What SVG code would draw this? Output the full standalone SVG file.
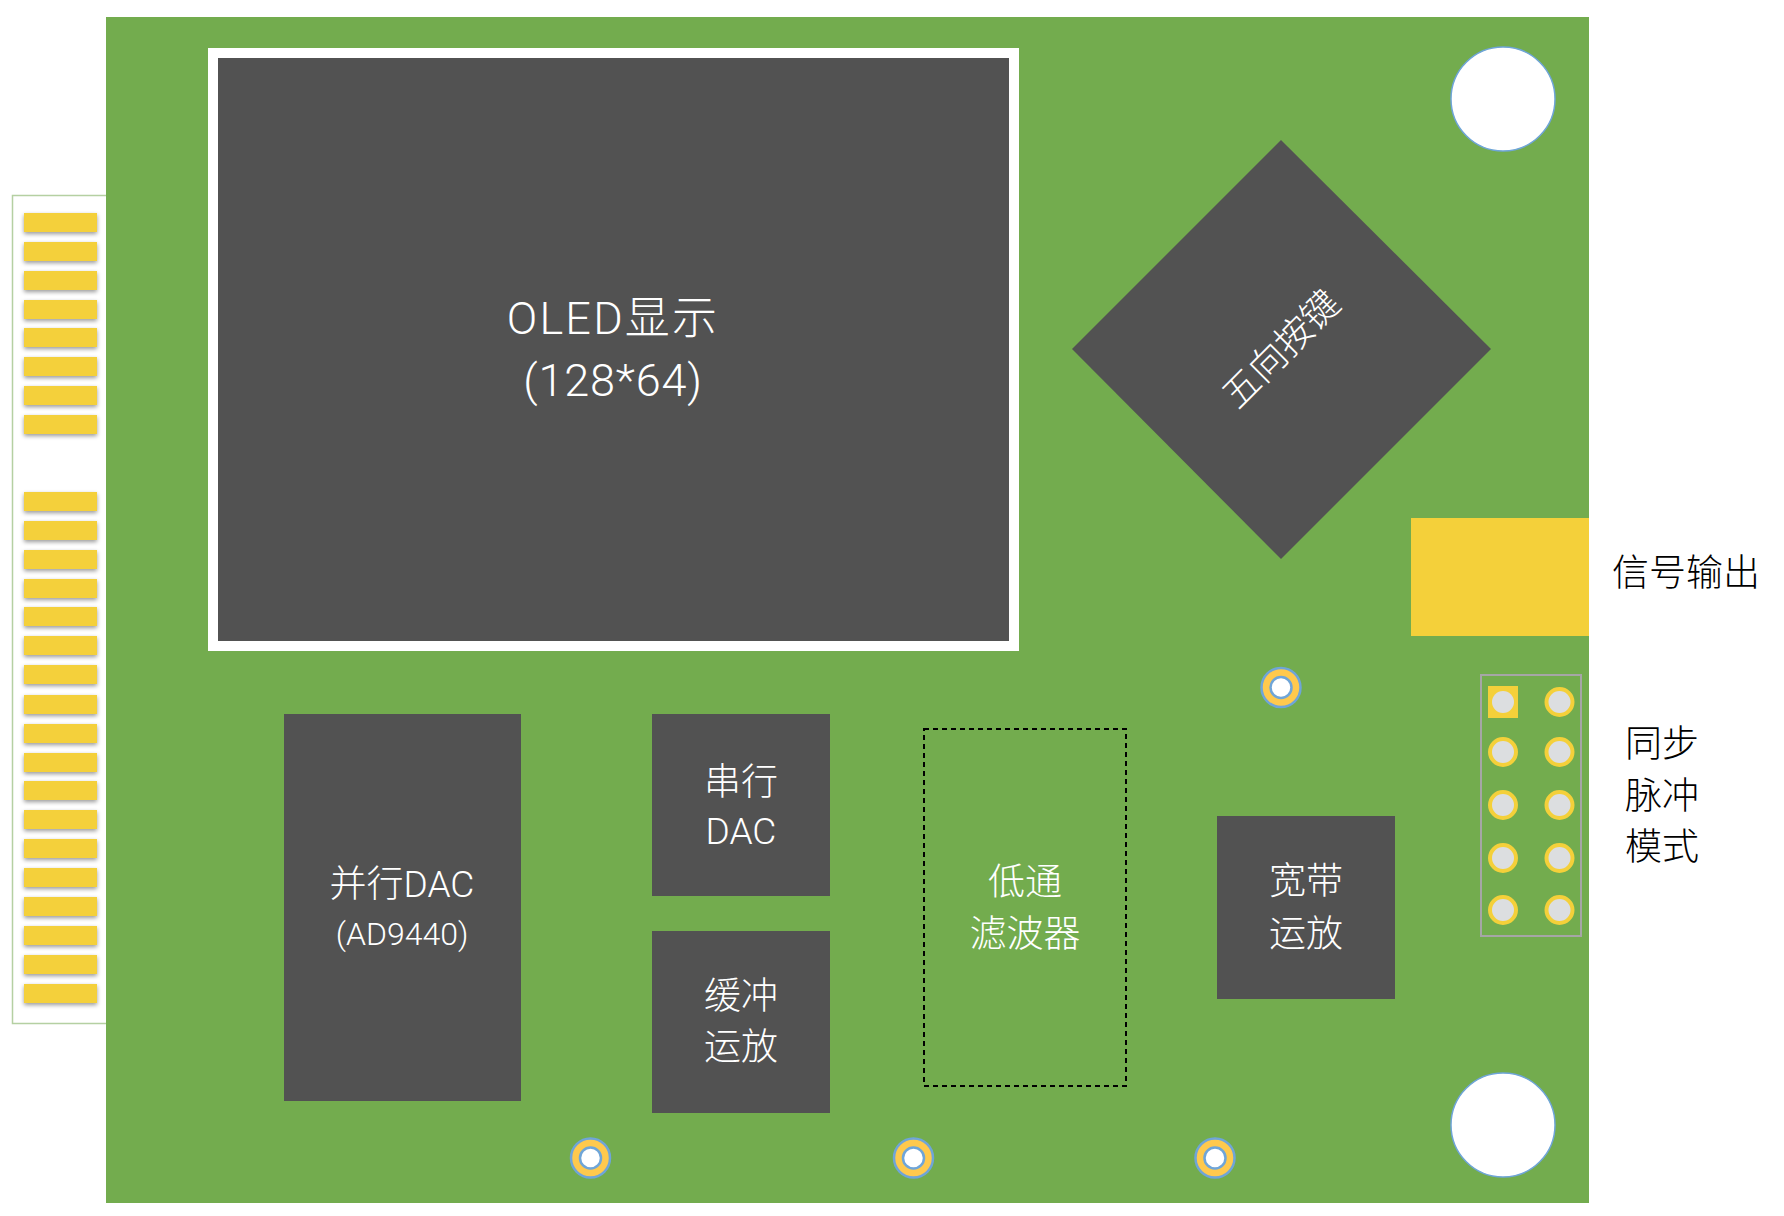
<svg xmlns="http://www.w3.org/2000/svg" width="1784" height="1216" viewBox="0 0 1784 1216">
<style>
text{font-family:Roboto,"Noto Sans CJK SC","Noto Sans",sans-serif;font-weight:300;text-anchor:middle;font-size:37px}
.w{fill:#fff}.k{fill:#000}
.chip{fill:#525252}
.f{fill:#f4d03a;filter:url(#sh)}
.pin{fill:#dcdee0;stroke:#f4d03a;stroke-width:4}
.via{fill:#fff;stroke:#6fa5d8;stroke-width:2.500}
.pad{fill:#ffc94d;stroke:#6fa5d8;stroke-width:2.500}
</style>
<defs>
<filter id="sh" x="-15%" y="-40%" width="130%" height="200%"><feDropShadow dx="0" dy="2" stdDeviation="2" flood-color="#000" flood-opacity="0.4"/></filter>
<rect id="g" class="f" x="24" width="73" height="19"/>
<g id="v"><circle class="pad" r="19.500"/><circle class="via" r="10.500"/></g>
</defs>
<rect width="1784" height="1216" fill="#fff"/>
<g id="edge">
<path d="M108 195.500H12.500V1023.500H108" fill="none" stroke="#b5d0a2" stroke-width="1.500"/>
<use href="#g" y="213"/><use href="#g" y="242"/><use href="#g" y="271"/><use href="#g" y="300"/><use href="#g" y="328"/><use href="#g" y="357"/><use href="#g" y="386"/><use href="#g" y="415"/>
<use href="#g" y="492"/><use href="#g" y="521"/><use href="#g" y="550"/><use href="#g" y="579"/><use href="#g" y="607"/><use href="#g" y="636"/><use href="#g" y="665"/><use href="#g" y="695"/><use href="#g" y="724"/><use href="#g" y="753"/><use href="#g" y="781"/><use href="#g" y="810"/><use href="#g" y="839"/><use href="#g" y="868"/><use href="#g" y="897"/><use href="#g" y="926"/><use href="#g" y="955"/><use href="#g" y="984"/>
</g>
<rect id="board" x="106" y="17" width="1483" height="1186" fill="#73ac4e"/>
<g id="oled"><rect x="208" y="48" width="811" height="603" fill="#fff"/><rect class="chip" x="218" y="58" width="791" height="583"/>
<text class="w" x="613" y="334" style="font-size:45px;letter-spacing:2.200px">OLED显示</text><text class="w" x="613" y="396" style="font-size:45px;letter-spacing:0.800px">(128*64)</text></g>
<g id="hole1"><circle cx="1503" cy="99" r="52" fill="#fff" stroke="#6fa5d8" stroke-width="1.500"/></g>
<g id="hole2"><circle cx="1503" cy="1125" r="52" fill="#fff" stroke="#6fa5d8" stroke-width="1.500"/></g>
<g id="key"><path class="chip" d="M1281 140L1491 349L1281 559L1072 349Z"/>
<text class="w" transform="translate(1281 349) rotate(-45)" y="13">五向按键</text></g>
<g id="sma"><rect x="1411" y="518" width="178" height="118" fill="#f4d03a"/></g>
<text class="k" x="1686" y="586">信号输出</text>
<use id="v1" href="#v" x="1281" y="687.500"/><use id="v2" href="#v" x="590.500" y="1158"/><use id="v3" href="#v" x="913.500" y="1158"/><use id="v4" href="#v" x="1215" y="1158"/>
<g id="header"><rect x="1481" y="675" width="100" height="261" fill="none" stroke="#a6a6a6" stroke-width="2"/>
<rect x="1488" y="686" width="30" height="32" fill="#f4d03a"/>
<circle cx="1503" cy="702" r="11" fill="#dcdee0"/><circle class="pin" cx="1559.500" cy="702" r="13"/>
<circle class="pin" cx="1503" cy="752" r="13"/><circle class="pin" cx="1559.500" cy="752" r="13"/>
<circle class="pin" cx="1503" cy="805" r="13"/><circle class="pin" cx="1559.500" cy="805" r="13"/>
<circle class="pin" cx="1503" cy="858" r="13"/><circle class="pin" cx="1559.500" cy="858" r="13"/>
<circle class="pin" cx="1503" cy="910" r="13"/><circle class="pin" cx="1559.500" cy="910" r="13"/></g>
<g id="sync"><text class="k" x="1662" y="757">同步</text><text class="k" x="1662" y="809">脉冲</text><text class="k" x="1662" y="860">模式</text></g>
<g id="pdac"><rect class="chip" x="284" y="714" width="237" height="387"/><text class="w" x="402" y="897">并行DAC</text><text class="w" x="402" y="945" style="font-size:32px">(AD9440)</text></g>
<g id="sdac"><rect class="chip" x="652" y="714" width="178" height="182"/><text class="w" x="741" y="795">串行</text><text class="w" x="741" y="844">DAC</text></g>
<g id="buf"><rect class="chip" x="652" y="931" width="178" height="182"/><text class="w" x="741" y="1009">缓冲</text><text class="w" x="741" y="1060">运放</text></g>
<g id="lpf"><rect x="924" y="729" width="202" height="357" fill="none" stroke="#000" stroke-width="2" stroke-dasharray="5 4"/><text class="w" x="1025" y="895">低通</text><text class="w" x="1025" y="947">滤波器</text></g>
<g id="amp"><rect class="chip" x="1217" y="816" width="178" height="183"/><text class="w" x="1306" y="894">宽带</text><text class="w" x="1306" y="947">运放</text></g>
<g id="connectors"/>
</svg>
